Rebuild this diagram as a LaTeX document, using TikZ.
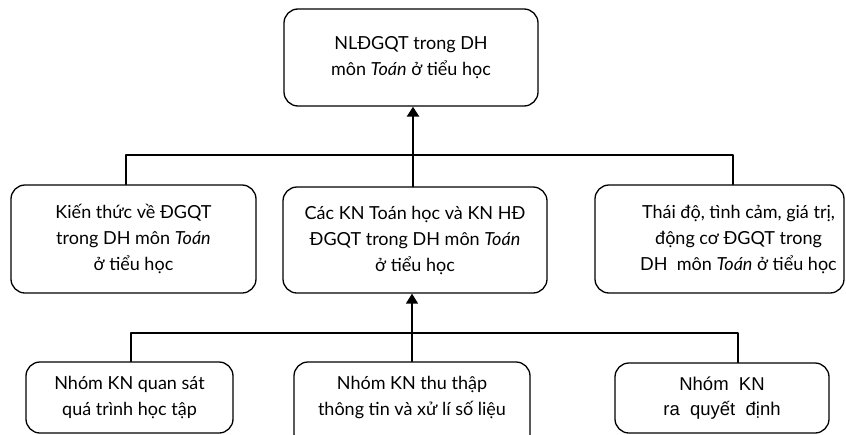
\documentclass[tikz,border=0pt]{standalone}
\usepackage{fontspec}
\setmainfont{Lato}
\newfontfamily\arialfont{Liberation Sans}
\usetikzlibrary{arrows.meta}
\begin{document}
\begin{tikzpicture}[x=1pt, y=-1pt, line join=round, line cap=round,
	font=\fontsize{18}{26}\selectfont,
	hop/.style={draw, rounded corners=14pt, line width=1.3pt, align=center, inner sep=0pt},
	noi/.style={line width=1.3pt},
	mui/.style={-{Triangle[length=10pt,width=12pt]}}]
	\useasboundingbox (0,0) rectangle (846,434);
	% hàng trên
	\node[hop, minimum width=254pt, minimum height=97pt] (nl) at (411,57.5) {NLĐGQT trong DH\\môn \textit{Toán} ở tiểu học};
	% hàng giữa
	\node[hop, minimum width=245pt, minimum height=108pt] (kt) at (133.5,239) {Kiến thức về ĐGQT\\trong DH môn \textit{Toán}\\ở tiểu học};
	\node[hop, minimum width=264pt, minimum height=106pt] (kn) at (415,240) {Các KN Toán học và KN HĐ\\ĐGQT trong DH môn \textit{Toán}\\ở tiểu học};
	\node[hop, minimum width=249pt, minimum height=108pt,
		label={[xshift=19pt, align=center]center:{Thái độ, tình cảm, giá trị,\\động cơ ĐGQT trong\\DH\ \ môn \textit{Toán} ở tiểu học}}] (td) at (719.5,239) {};
	% hàng dưới
	\node[hop, minimum width=207pt, minimum height=71pt] (qs) at (129.5,397.5) {Nhóm KN quan sát\\quá trình học tập};
	\node[hop, minimum width=236pt, minimum height=86pt,
		label={[yshift=7pt, align=center]center:{Nhóm KN thu thập\\thông tin và xử lí số liệu}}] (tt) at (412,405) {};
	\node[hop, minimum width=214pt, minimum height=70pt, font=\arialfont\fontsize{18.5}{25}\selectfont] (qd) at (722,398) {Nhóm\ \ KN\\ra\ \ quyết\ \ định};
	% đường nối
	\coordinate (busT) at (413,155);
	\coordinate (busD) at (412,333);
	\draw[noi] ([xshift=-7.5pt]kt.north) |- (busT) -| ([xshift=13.5pt]td.north);
	\draw[mui, line width=2.5pt] (kn.north -| busT) -- (nl.south -| busT);
	\draw[noi] ([xshift=1.5pt]qs.north) |- (busD) -| ([xshift=16pt]qd.north);
	\draw[mui, line width=1.5pt] (tt.north -| busD) -- (kn.south -| busD);
\end{tikzpicture}
\end{document}
